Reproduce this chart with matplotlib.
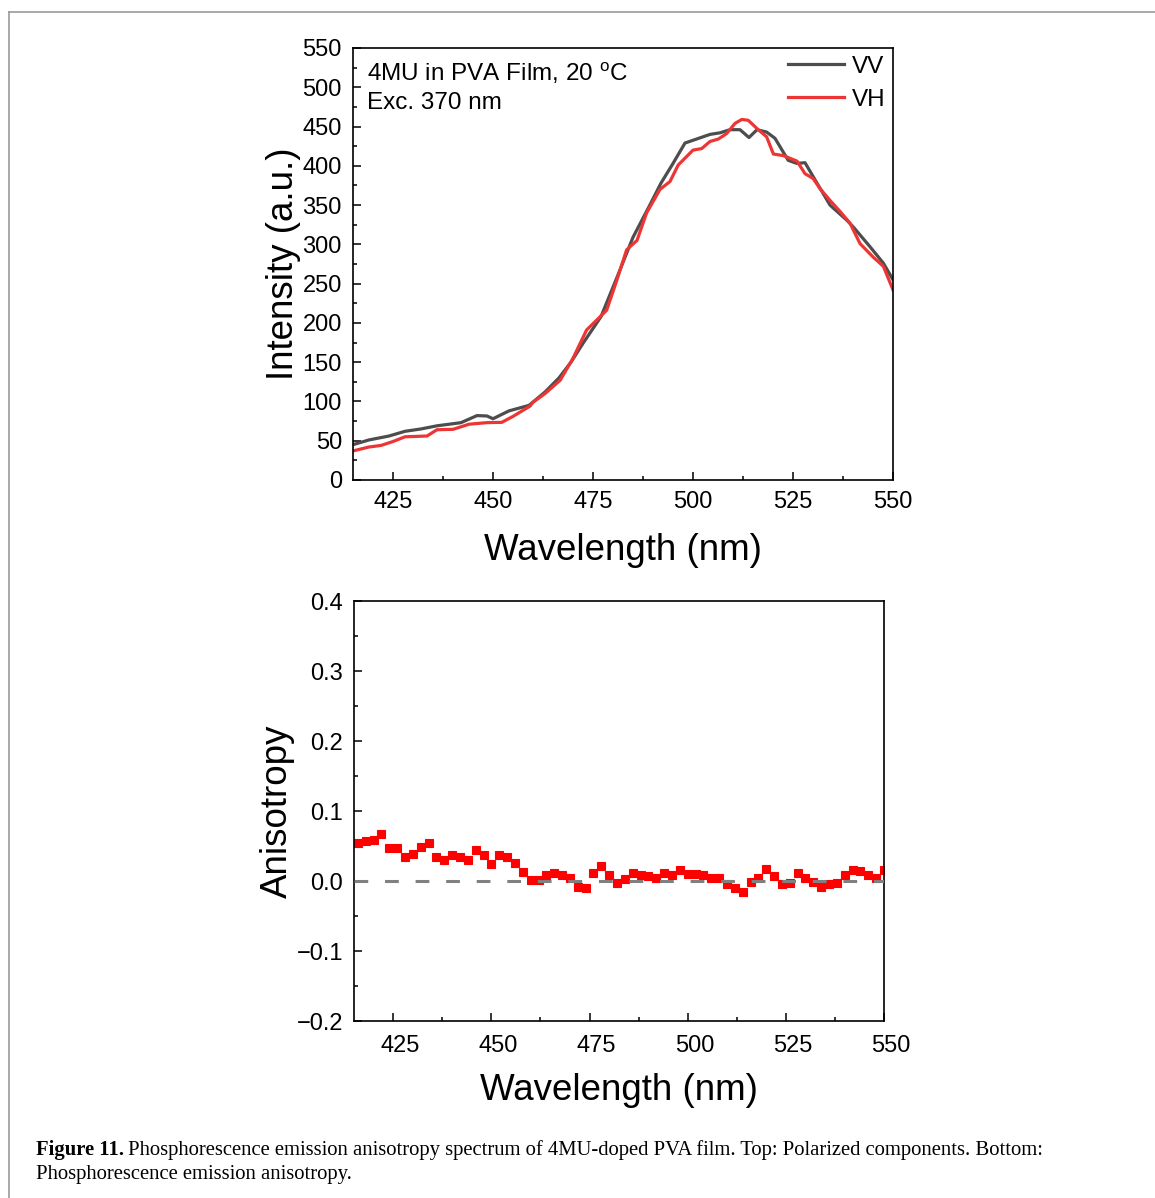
import matplotlib
matplotlib.use("Agg")
import matplotlib.pyplot as plt
import matplotlib.transforms as mtransforms
from matplotlib.lines import Line2D
from matplotlib.ticker import MultipleLocator, FuncFormatter

plt.rcParams['font.family'] = ['Liberation Sans', 'DejaVu Sans']
plt.rcParams['mathtext.fontset'] = 'custom'
plt.rcParams['mathtext.rm'] = 'Liberation Sans'

# top panel: polarized components
wl_vv = [415, 419, 424, 428, 432, 436, 439, 442, 446, 448.5, 450, 454, 459, 463,
         466.5, 469.5, 472.5, 477, 481, 485, 489, 492, 495, 498, 504.25, 506.75,
         509.25, 511.75, 514, 516, 518.4, 520.5, 523.8, 526, 528, 531, 534.25,
         538.4, 540.1, 544.25, 547.6, 550]
int_vv = [45, 51, 56, 62, 65, 69, 71, 73, 82, 81.5, 78, 88, 95, 112,
          130, 150, 174, 208, 258, 309, 348, 378, 403, 429, 440, 442,
          446, 446, 436, 446, 443, 435, 407, 403, 404, 378, 350,
          331, 322, 297, 276, 255]

wl_vh = [415, 419, 422, 425, 428, 433.5, 436, 440, 444, 448.4, 452.2, 455, 459.25,
         460, 463, 466.8, 470, 473.4, 476.8, 478.4, 481, 483.4, 486, 488.4, 491.75,
         494.25, 496.3, 500, 502.2, 504.25, 506.3, 508.4, 510.5, 512.2, 513.8,
         516.3, 518.4, 520.1, 522.6, 526, 528, 530, 531.75, 534.25, 536.75,
         539.25, 541.75, 545, 547.6, 550]
int_vh = [37, 42, 44, 49, 55, 56, 64, 64.5, 71, 73, 73.4, 81, 94,
          99, 110, 127, 155, 191, 208, 216, 255, 293, 305, 340, 370,
          380, 401, 420, 422, 431, 434, 441, 454, 459, 458,
          446, 437, 415, 413, 406, 390, 384, 371, 356, 342,
          327, 301, 284, 272, 242]

# bottom panel: anisotropy
wl_r = list(range(416, 551, 2))
aniso = [0.054, 0.057, 0.059, 0.067, 0.047, 0.047, 0.035, 0.038, 0.049, 0.055,
         0.035, 0.030, 0.037, 0.034, 0.030, 0.045, 0.037, 0.024, 0.037, 0.035,
         0.026, 0.013, 0.002, 0.002, 0.008, 0.011, 0.009, 0.005, -0.008, -0.010,
         0.011, 0.021, 0.009, -0.003, 0.003, 0.011, 0.009, 0.007, 0.005, 0.011,
         0.009, 0.016, 0.010, 0.010, 0.008, 0.005, 0.005, -0.004, -0.010, -0.015,
         -0.002, 0.005, 0.017, 0.007, -0.004, -0.003, 0.011, 0.004, -0.001, -0.008,
         -0.004, -0.003, 0.008, 0.016, 0.015, 0.008, 0.005, 0.016]

W, H = 1155, 1198
fig = plt.figure(figsize=(W / 100, H / 100), dpi=100)

# page frame (grey border of the scanned figure)
fig.add_artist(Line2D([9 / W, 1.0], [1 - 12 / H, 1 - 12 / H], color='#9a9a9a', lw=1.2))
fig.add_artist(Line2D([9 / W, 9 / W], [0.0, 1 - 12 / H], color='#9a9a9a', lw=1.2))


def style_axes(ax):
    for s in ax.spines.values():
        s.set_linewidth(1.2)
    ax.tick_params(which='both', direction='in', top=False, right=False,
                   labelsize=17, width=1.1, pad=8)
    ax.tick_params(which='major', length=5.5)
    ax.tick_params(which='minor', length=3)


ax1 = fig.add_axes([353 / W, 1 - 480 / H, 540 / W, 432 / H])
ax1.plot(wl_vv, int_vv, color='#4d4d4d', lw=2.3, label='VV')
ax1.plot(wl_vh, int_vh, color='#ee3535', lw=2.3, label='VH')
ax1.set_xlim(415, 550)
ax1.set_ylim(0, 550)
ax1.xaxis.set_major_locator(MultipleLocator(25))
ax1.xaxis.set_minor_locator(MultipleLocator(12.5))
ax1.yaxis.set_major_locator(MultipleLocator(50))
ax1.yaxis.set_minor_locator(MultipleLocator(25))
style_axes(ax1)
ax1.set_xlabel('Wavelength (nm)', fontsize=26.5)
ax1.set_ylabel('Intensity (a.u.)', fontsize=26.5)
ax1.xaxis.set_label_coords(0.5, -0.122)
ax1.yaxis.set_label_coords(-0.096, 0.5)
ax1.text(0.026, 0.973, '4MU in PVA Film, 20 $^{\\mathrm{o}}$C\nExc. 370 nm',
         transform=ax1.transAxes, fontsize=17.5, va='top', ha='left', linespacing=1.4)
ax1.legend(loc='upper right', frameon=False, fontsize=17.5, handlelength=2.3,
           handletextpad=0.3, labelspacing=0.45, borderaxespad=0.0, borderpad=0.32,
           bbox_to_anchor=(1.0, 1.0))

ax2 = fig.add_axes([354 / W, 1 - 1021 / H, 530 / W, 420 / H])
ax2.axhline(0, color='#808080', lw=2.2, dashes=(4.5, 5.5), zorder=3)
ax2.plot(wl_r, aniso, ls='none', marker='s', ms=6.4, color='#ff0000',
         mec='#ff0000', mew=0.8, zorder=2)
ax2.set_xlim(415, 550)
ax2.set_ylim(-0.2, 0.4)
ax2.xaxis.set_major_locator(MultipleLocator(25))
ax2.xaxis.set_minor_locator(MultipleLocator(12.5))
ax2.yaxis.set_major_locator(MultipleLocator(0.1))
ax2.yaxis.set_minor_locator(MultipleLocator(0.05))
ax2.yaxis.set_major_formatter(FuncFormatter(lambda v, p: f'{v:.1f}'.replace('-', '\u2212')))
style_axes(ax2)
ax2.tick_params(axis='x', pad=10)
ax2.set_xlabel('Wavelength (nm)', fontsize=26.5)
ax2.set_ylabel('Anisotropy', fontsize=26.5)
ax2.xaxis.set_label_coords(0.5, -0.125)
ax2.yaxis.set_label_coords(-0.112, 0.5)

# the x tick labels of the lower panel sit a little right of their ticks
shift = mtransforms.ScaledTranslation(7 / 100, 0, fig.dpi_scale_trans)
for lab in ax2.get_xticklabels():
    lab.set_transform(lab.get_transform() + shift)

# caption
cap_y1 = 1 - 1150 / H
cap_y2 = 1 - 1174 / H
t = fig.text(36 / W, cap_y1, 'Figure 11.', fontsize=14.9, fontweight='bold',
             family='Liberation Serif', va='center', ha='left')
fig.canvas.draw()
bb = t.get_window_extent()
fig.text(bb.x1 / W + 4 / W, cap_y1,
         'Phosphorescence emission anisotropy spectrum of 4MU-doped PVA film. '
         'Top: Polarized components. Bottom:',
         fontsize=14.9, family='Liberation Serif', va='center', ha='left')
fig.text(36 / W, cap_y2, 'Phosphorescence emission anisotropy.', fontsize=14.9,
         family='Liberation Serif', va='center', ha='left')

fig.savefig('out.png', dpi=100)
